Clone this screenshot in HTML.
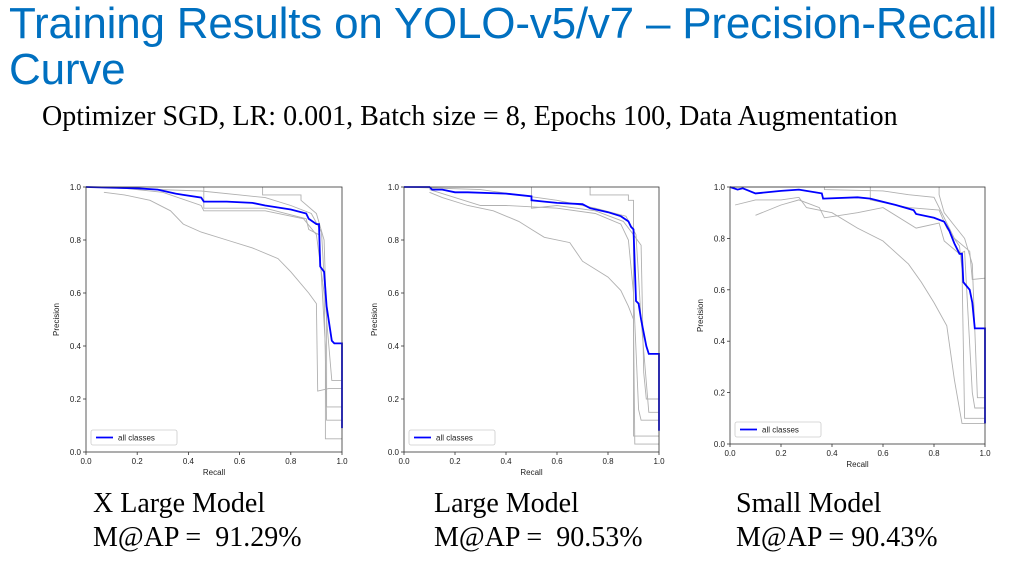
<!DOCTYPE html>
<html><head><meta charset="utf-8">
<style>
body{margin:0;width:1027px;height:570px;background:#fff;overflow:hidden;position:relative;font-family:"Liberation Sans",sans-serif}
.title{position:absolute;left:9px;top:1px;color:#0070c0;font-size:44px;line-height:46px;letter-spacing:-0.2px}
.sub{position:absolute;left:42px;top:101px;font-family:"Liberation Serif",serif;font-size:28px}
.cap{position:absolute;font-family:"Liberation Serif",serif;font-size:28px;line-height:34px}
svg{position:absolute;left:0;top:0}
</style></head><body>
<div class="title">Training Results on YOLO-v5/v7 – Precision-Recall<br>Curve</div>
<div class="sub">Optimizer SGD, LR: 0.001, Batch size = 8, Epochs 100, Data Augmentation</div>
<div class="cap" style="left:93px;top:487px">X Large Model<br>M@AP =&nbsp; 91.29%</div>
<div class="cap" style="left:434px;top:487px">Large Model<br>M@AP =&nbsp; 90.53%</div>
<div class="cap" style="left:736px;top:487px">Small Model<br>M@AP = 90.43%</div>
<svg id="s" width="1027" height="570"></svg>
<script>
const ticks=[0,0.2,0.4,0.6,0.8,1.0];
const tickLabels=["0.0","0.2","0.4","0.6","0.8","1.0"];
const blueX=[
[0,0.2,0.28,0.35,0.38,0.45,0.46,0.55,0.65,0.7,0.8,0.86,0.87,0.9,0.91,0.915,0.93,0.94,0.96,0.97,1,1],
[0,0.1,0.11,0.15,0.2,0.25,0.4,0.5,0.5,0.55,0.6,0.7,0.73,0.8,0.85,0.88,0.89,0.9,0.91,0.92,0.93,0.95,0.96,1,1],
[0,0.03,0.05,0.1,0.2,0.27,0.36,0.365,0.5,0.55,0.65,0.72,0.73,0.8,0.84,0.86,0.88,0.9,0.91,0.915,0.94,0.95,0.96,1,1]];
const blueY=[
[1,0.995,0.99,0.975,0.97,0.96,0.945,0.945,0.94,0.93,0.915,0.9,0.88,0.86,0.86,0.7,0.68,0.55,0.42,0.41,0.41,0.09],
[1,1,0.99,0.99,0.98,0.98,0.975,0.965,0.95,0.945,0.94,0.935,0.92,0.905,0.89,0.87,0.85,0.84,0.57,0.56,0.5,0.4,0.37,0.37,0.08],
[1,0.99,0.995,0.975,0.985,0.99,0.975,0.955,0.96,0.955,0.93,0.91,0.895,0.88,0.865,0.83,0.78,0.74,0.74,0.63,0.6,0.55,0.45,0.45,0.08]];
const grayX=[
[[0.07,0.15,0.25,0.33,0.38,0.45,0.55,0.65,0.75,0.8,0.87,0.9,0.905,0.95,1],
 [0,0.45,0.6,0.7,0.8,0.88,0.92,0.94,0.96,1],
 [0.1,0.3,0.45,0.46,0.7,0.85,0.9,0.93,0.94,0.98,1],
 [0.46,0.46,0.7,0.86,0.87,0.91,0.935,0.935,1],
 [0.69,0.69,0.84,0.84,0.9,0.93,0.94,0.94,1]],
[[0.1,0.15,0.25,0.35,0.45,0.5,0.55,0.65,0.7,0.8,0.85,0.88,0.9,0.905,1],
 [0.1,0.2,0.3,0.4,0.6,0.75,0.85,0.88,0.9,0.92,0.93,1],
 [0.5,0.5,0.6,0.75,0.86,0.9,0.93,0.94,0.95,1],
 [0.73,0.73,0.88,0.88,0.9,0.9,1],
 [0,0.3,0.45,0.6,0.75,0.87,0.91,0.93,0.96,1]],
[[0.02,0.1,0.2,0.27,0.3,0.4,0.5,0.6,0.7,0.75,0.8,0.85,0.88,0.91,1],
 [0.1,0.2,0.27,0.35,0.37,0.5,0.6,0.73,0.82,0.84,0.9,0.92,0.95,0.96,1],
 [0,0.55,0.55,0.7,0.82,0.85,0.9,0.91,0.92,1],
 [0.37,0.37,0.6,0.7,0.8,0.85,0.88,0.94,0.95,1],
 [0.82,0.82,0.84,0.88,0.92,0.95,0.97,1]]];
const grayY=[
[[0.98,0.97,0.95,0.91,0.86,0.83,0.8,0.77,0.73,0.68,0.6,0.56,0.23,0.24,0.24],
 [1,0.985,0.97,0.96,0.93,0.9,0.83,0.5,0.27,0.27],
 [1,0.98,0.93,0.91,0.91,0.88,0.82,0.6,0.12,0.12,0.12],
 [1,0.92,0.92,0.88,0.84,0.82,0.4,0.05,0.05],
 [1,0.97,0.97,0.95,0.9,0.8,0.5,0.17,0.17]],
[[0.98,0.96,0.93,0.91,0.87,0.84,0.81,0.79,0.72,0.66,0.61,0.55,0.5,0.03,0.03],
 [0.99,0.96,0.93,0.93,0.92,0.9,0.86,0.8,0.6,0.16,0.12,0.12],
 [1,0.92,0.93,0.91,0.87,0.82,0.78,0.3,0.2,0.2],
 [1,0.97,0.97,0.95,0.95,0.06,0.06],
 [1,0.99,0.97,0.95,0.92,0.89,0.82,0.5,0.15,0.15]],
[[0.93,0.95,0.95,0.96,0.92,0.9,0.84,0.79,0.7,0.63,0.55,0.46,0.25,0.08,0.08],
 [0.89,0.93,0.95,0.92,0.88,0.9,0.92,0.84,0.86,0.79,0.74,0.75,0.2,0.14,0.14],
 [1,1,0.95,0.92,0.91,0.84,0.77,0.68,0.1,0.1],
 [1,0.99,0.985,0.97,0.96,0.86,0.8,0.75,0.64,0.645],
 [1,0.97,0.9,0.85,0.8,0.7,0.18,0.18]]];
const boxes=[[86,342,187,452],[404,659,187,452],[730,985,187,444]];
const NS="http://www.w3.org/2000/svg",S=document.getElementById('s');
function mk(t,a,p){const e=document.createElementNS(NS,t);for(const k in a)e.setAttribute(k,a[k]);(p||S).appendChild(e);return e;}
boxes.forEach((b,i)=>{
 const [x0,x1,y0,y1]=b;
 const g=mk('g',{});
 
 
 const sx=v=>x0+v*(x1-x0), sy=v=>y1-v*(y1-y0);
 const pts=(X,Y)=>X.map((v,j)=>sx(v).toFixed(1)+','+sy(Y[j]).toFixed(1)).join(' ');
 grayX[i].forEach((X,k)=>{const l=mk('polyline',{points:pts(X,grayY[i][k]),fill:'none',stroke:'#b0b0b0','stroke-width':0.9},g);
  
  });
 const bl=mk('polyline',{points:pts(blueX[i],blueY[i]),fill:'none',stroke:'#0000ff','stroke-width':1.8},g);
 
 
 mk('rect',{x:x0,y:y0,width:x1-x0,height:y1-y0,fill:'none',stroke:'#333','stroke-width':0.8},g);
 ticks.forEach((t,j)=>{
  mk('line',{x1:sx(t),x2:sx(t),y1:y1,y2:y1+3,stroke:'#333','stroke-width':0.8},g);
  const tx=mk('text',{x:sx(t),y:y1+12,'font-size':8,'text-anchor':'middle',fill:'#222'},g);tx.textContent=tickLabels[j];
  
  
  mk('line',{x1:x0-3,x2:x0,y1:sy(t),y2:sy(t),stroke:'#333','stroke-width':0.8},g);
  const ty=mk('text',{x:x0-5,y:sy(t)+3,'font-size':8,'text-anchor':'end',fill:'#222'},g);ty.textContent=tickLabels[j];
  
  
 });
 const xl=mk('text',{x:(x0+x1)/2,y:y1+23,'font-size':8,'text-anchor':'middle',fill:'#222'},g);xl.textContent='Recall';
 
 
 const yc=(y0+y1)/2, xx=x0-27;
 const yl=mk('text',{x:xx,y:yc,'font-size':8,'text-anchor':'middle',fill:'#222',transform:`rotate(-90 ${xx} ${yc})`},g);yl.textContent='Precision';
 
 
 const lg=mk('g',{},g);
 
 
 mk('rect',{x:x0+5,y:y1-22,width:86,height:15,rx:2,fill:'#fff',stroke:'#ccc','stroke-width':0.8},lg);
 mk('line',{x1:x0+10,x2:x0+27,y1:y1-14.5,y2:y1-14.5,stroke:'#0000ff','stroke-width':1.8},lg);
 const lt=mk('text',{x:x0+32,y:y1-11.5,'font-size':8,fill:'#222'},lg);lt.textContent='all classes';
});
</script>
</body></html>
